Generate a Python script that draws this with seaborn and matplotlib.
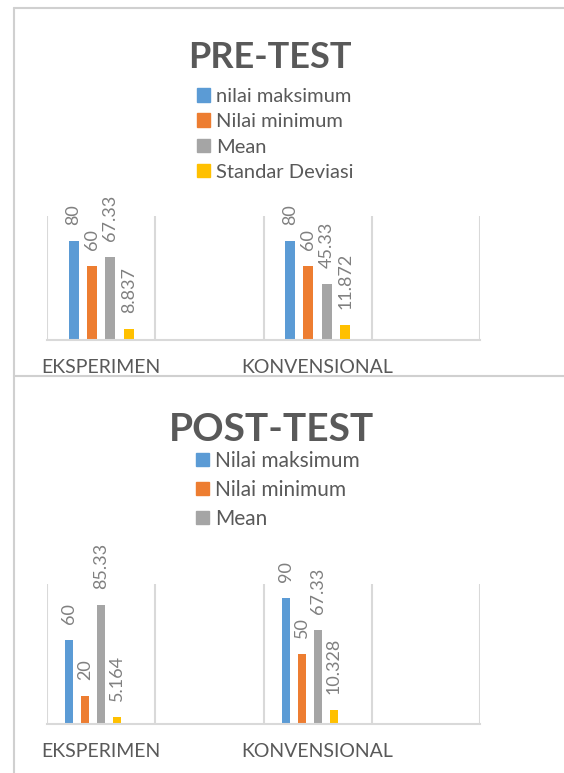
import matplotlib
matplotlib.use("Agg")
import matplotlib.pyplot as plt
from matplotlib.lines import Line2D
from matplotlib.patches import Patch
from matplotlib.ticker import FixedLocator
import pandas as pd
import seaborn as sns

# data
kelas = ["EKSPERIMEN", "KONVENSIONAL"]
urutan_kelas = ["EKSPERIMEN", "", "KONVENSIONAL", " "]   # Excel leaves an empty slot after each group

seri_pre = ["nilai maksimum", "Nilai minimum", "Mean", "Standar Deviasi"]
pre_eksperimen = [80, 60, 67.33, 8.837]
pre_konvensional = [80, 60, 45.33, 11.872]

seri_post = ["Nilai maksimum", "Nilai minimum", "Mean", "Standar Deviasi", "_kosong"]
legend_post = ["Nilai maksimum", "Nilai minimum", "Mean"]
post_eksperimen = [60, 20, 85.33, 5.164]
post_konvensional = [90, 50, 67.33, 10.328]

warna = ["#5B9BD5", "#ED7D31", "#A5A5A5", "#FFC000", "#FFFFFF"]
ABU_GRID = "#D9D9D9"
ABU_TEKS = "#595959"
ABU_LABEL = "#808080"

sns.set_style("white")
plt.rcParams["font.family"] = ["Lato", "DejaVu Sans"]

W, H = 564, 773
fig = plt.figure(figsize=(W / 100, H / 100), dpi=100)


def px(x, y):
    """pixel (from top-left) -> figure fraction"""
    return x / W, 1 - y / H


def long_df(seri, eks, konv):
    rows = []
    for s, a, b in zip(seri, eks, konv):
        rows.append({"kelas": kelas[0], "seri": s, "nilai": a})
        rows.append({"kelas": kelas[1], "seri": s, "nilai": b})
    return pd.DataFrame(rows)


def draw_panel(ax, df, hue_order, width, gap):
    pal = dict(zip(hue_order, warna))
    sns.barplot(data=df, x="kelas", y="nilai", hue="seri", order=urutan_kelas,
                hue_order=hue_order, palette=pal, width=width, gap=gap,
                linewidth=0, saturation=1, legend=False, errorbar=None, ax=ax)
    for cont in ax.containers:
        ax.bar_label(cont, fmt="{:g}", rotation=90, padding=11.5,
                     color=ABU_LABEL, fontsize=13)
    ax.set_ylim(0, 100)
    ax.set_xlim(-0.5, 3.5)
    ax.set_xlabel("")
    ax.set_ylabel("")
    ax.set_yticks([])
    ax.xaxis.set_minor_locator(FixedLocator([-0.5, 0.5, 1.5, 2.5, 3.5]))
    ax.grid(which="minor", axis="x", color=ABU_GRID, lw=1.5)
    ax.tick_params(axis="x", which="both", length=0, pad=14,
                   labelsize=14, labelcolor=ABU_TEKS)
    for s in ["left", "right", "top"]:
        ax.spines[s].set_visible(False)
    ax.spines["bottom"].set_color(ABU_GRID)
    ax.spines["bottom"].set_linewidth(1.5)
    ax.patch.set_alpha(0)


# PRE-TEST
ax1 = fig.add_axes([47 / W, 1 - 340 / H, 433 / W, 124 / H])
draw_panel(ax1, long_df(seri_pre, pre_eksperimen, pre_konvensional),
           seri_pre, width=0.68, gap=0.455)
fig.text(*px(270, 68), "PRE-TEST", ha="center", va="baseline",
         fontsize=26, fontweight="bold", color=ABU_TEKS)
fig.legend(handles=[Patch(color=c) for c in warna[:4]], labels=seri_pre,
           loc="upper left", bbox_to_anchor=px(197, 88), frameon=False,
           fontsize=14.5, labelcolor=ABU_TEKS, handlelength=0.65, handleheight=0.65,
           handletextpad=0.3, labelspacing=0.41, borderpad=0, borderaxespad=0)

# POST-TEST
ax2 = fig.add_axes([47 / W, 1 - 724 / H, 433 / W, 140 / H])
draw_panel(ax2, long_df(seri_post[:4], post_eksperimen, post_konvensional),
           seri_post, width=0.74, gap=0.5)
fig.text(*px(271, 441), "POST-TEST", ha="center", va="baseline",
         fontsize=28, fontweight="bold", color=ABU_TEKS)
fig.legend(handles=[Patch(color=c) for c in warna[:3]], labels=legend_post,
           loc="upper left", bbox_to_anchor=px(196, 451), frameon=False,
           fontsize=15, labelcolor=ABU_TEKS, handlelength=0.62, handleheight=0.62,
           handletextpad=0.3, labelspacing=0.43, borderpad=0, borderaxespad=0)

# chart frames
bingkai = dict(color="#D0D0D0", lw=1.5, transform=fig.transFigure)
fig.add_artist(Line2D([14 / W, 14 / W], [1 - 8 / H, 0], **bingkai))
fig.add_artist(Line2D([14 / W, 1], [1 - 8 / H, 1 - 8 / H], **bingkai))
fig.add_artist(Line2D([14 / W, 1], [1 - 376 / H, 1 - 376 / H], **bingkai))

fig.savefig("out.png", dpi=100, facecolor="white")
